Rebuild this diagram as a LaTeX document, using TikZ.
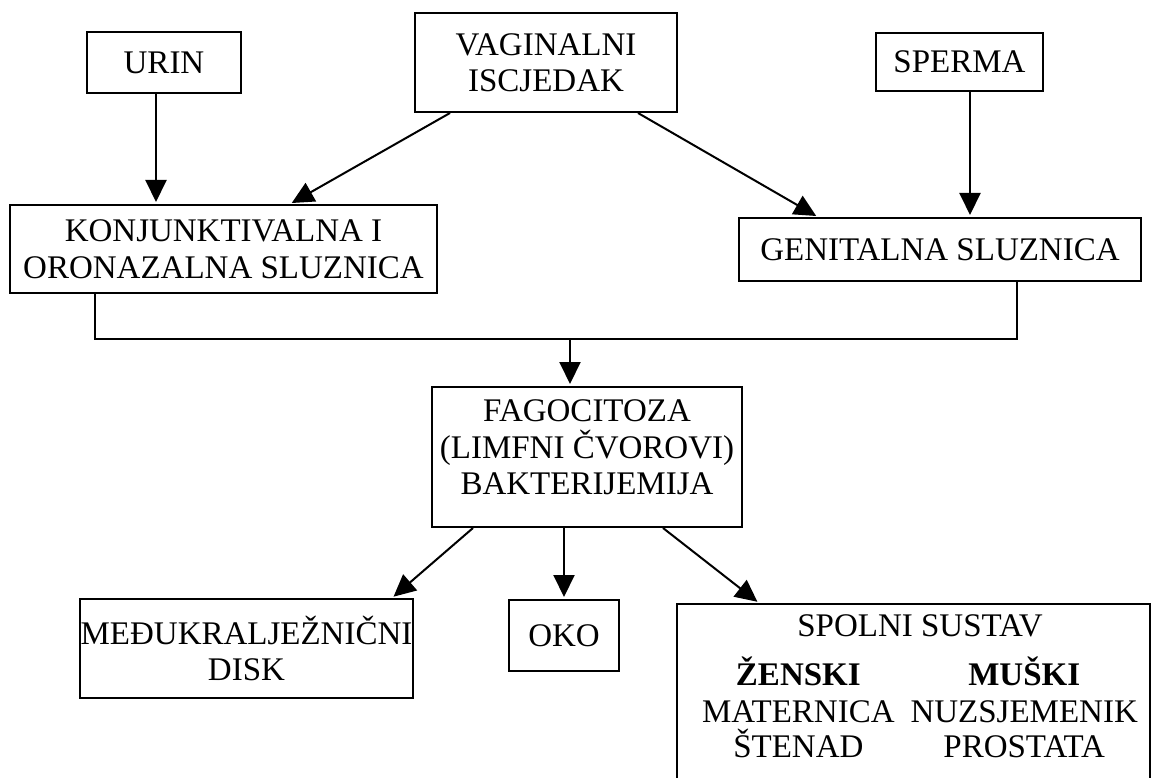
\documentclass[tikz,border=0pt]{standalone}
\usepackage{fontspec}
\setmainfont{Liberation Serif}
\usetikzlibrary{arrows.meta}

\begin{document}
\begin{tikzpicture}[x=1pt,y=-1pt,>={Triangle[length=22pt,width=21pt]},
  box/.style={draw,line width=2pt,align=center,inner sep=0pt,font=\fontsize{33}{36.5}\selectfont},
  link/.style={line width=2pt},
  arr/.style={->,line width=2pt,shorten >=2pt}]
\useasboundingbox (0,0) rectangle (1151,778);
\node[box,minimum width=154pt,minimum height=61pt] (urin) at (164,62.5) {URIN};
\node[box,minimum width=262pt,minimum height=99pt] (vag) at (546,62.5) {VAGINALNI\\ISCJEDAK};
\node[box,minimum width=167pt,minimum height=58pt] (sperma) at (959.5,62) {SPERMA};
\node[box,minimum width=427pt,minimum height=88pt] (konj) at (223.5,249) {KONJUNKTIVALNA I\\ORONAZALNA SLUZNICA};
\node[box,minimum width=402pt,minimum height=63pt] (gen) at (940,249.5) {GENITALNA SLUZNICA};
\node[box,minimum width=310pt,minimum height=140pt] (fag) at (587,457) {FAGOCITOZA\\(LIMFNI ČVOROVI)\\BAKTERIJEMIJA\\[-17.5pt]\mbox{}};
\node[box,minimum width=333pt,minimum height=99pt] (medu) at (246.5,648.5) {MEĐUKRALJEŽNIČNI\\DISK};
\node[box,minimum width=110pt,minimum height=71pt] (oko) at (564,635.5) {OKO};
\node[box,minimum width=473pt,inner ysep=6.5pt,anchor=north] (spol) at (913.5,603) {\hspace*{13pt}\begin{tabular}{@{}c@{\hspace{16pt}}c@{}}
  \multicolumn{2}{c}{SPOLNI SUSTAV}\\[10pt]
  \textbf{ŽENSKI} & \textbf{MUŠKI}\\
  MATERNICA & NUZSJEMENIK\\[-3.5pt]
  ŠTENAD & PROSTATA\\[40pt]
\end{tabular}};
% into the mucosa
\draw[arr] ([xshift=-8pt]urin.south) -- ([xshift=-8pt]urin.south |- konj.north);
\draw[arr] ([xshift=36pt]vag.south west) -- ([xshift=281pt]konj.north west);
\draw[arr] ([xshift=-40pt]vag.south east) -- ([xshift=80pt]gen.north west);
\draw[arr] ([xshift=10.5pt]sperma.south) -- ([xshift=10.5pt]sperma.south |- gen.north);
% joined line down
\coordinate (hub) at (570,339);
\draw[link] ([xshift=86pt]konj.south west) |- (hub) -| ([xshift=-125pt]gen.south east);
\draw[arr] (hub) -- (hub |- fag.north);
% spread
\draw[arr] ([xshift=42pt]fag.south west) -- ([xshift=-22pt]medu.north east);
\draw[arr] (oko.north |- fag.south) -- (oko.north);
\draw[arr] ([xshift=-80pt]fag.south east) -- ([xshift=83pt]spol.north west);
\end{tikzpicture}
\end{document}
